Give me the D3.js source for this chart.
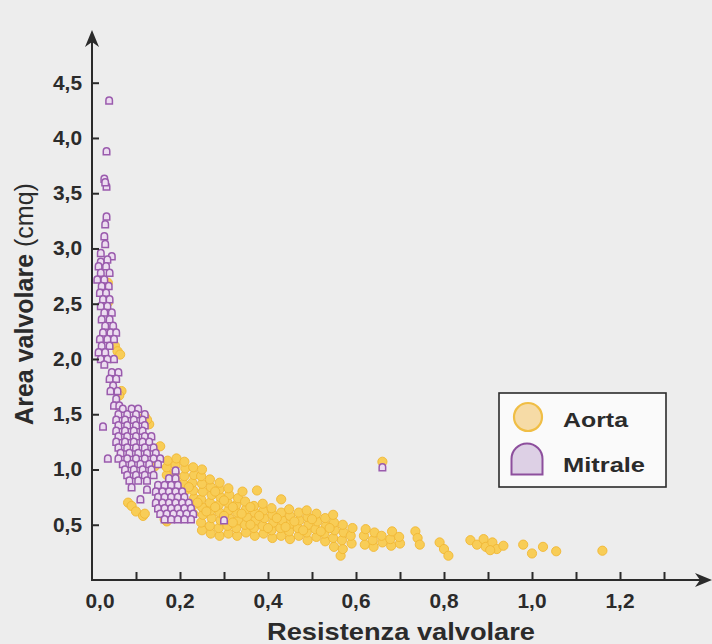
<!DOCTYPE html>
<html>
<head>
<meta charset="utf-8">
<script src="https://cdn.jsdelivr.net/npm/d3@7"></script>
<style>
    body { margin: 0; background: #ececec; }
    svg { display: block; font-family: "Liberation Sans", Arial, sans-serif; }
</style>
</head>
<body>
<div id="chart"></div>
<script>
// ticks
const xTicks = [0, 0.2, 0.4, 0.6, 0.8, 1.0, 1.2];
const xMinorTicks = [0.1, 0.2, 0.3, 0.4, 0.5, 0.6, 0.7, 0.8, 0.9, 1.0, 1.1, 1.2, 1.3];
const yTicks = [0.5, 1.0, 1.5, 2.0, 2.5, 3.0, 3.5, 4.0, 4.5];
const seriesNames = ["Aorta", "Mitrale"];

// Aorta [resistenza, area]
const aortaPoints = [
    [0.036, 2.69], [0.036, 2.51], [0.052, 2.12], [0.058, 2.07], [0.064, 2.04], [0.067, 1.71], [0.062, 1.67],
    [0.12, 1.48], [0.13, 1.41], [0.125, 1.45], [0.155, 1.21], [0.143, 1.03], [0.082, 0.70], [0.09, 0.67],
    [0.10, 0.62], [0.116, 0.58], [0.12, 0.60], [0.17, 0.53], [0.165, 0.55],
    [0.17, 0.95], [0.17, 1.02], [0.172, 1.08],
    [0.19, 0.90], [0.188, 0.97], [0.19, 1.04], [0.192, 1.10],
    [0.21, 0.80], [0.208, 0.87], [0.21, 0.94], [0.212, 1.01], [0.21, 1.07],
    [0.23, 0.60], [0.228, 0.67], [0.232, 0.74], [0.23, 0.81], [0.228, 0.88], [0.232, 0.95], [0.23, 1.02],
    [0.25, 0.45], [0.248, 0.52], [0.252, 0.59], [0.25, 0.66], [0.248, 0.73], [0.252, 0.80], [0.25, 0.87], [0.248, 0.94], [0.25, 1.00],
    [0.27, 0.42], [0.268, 0.49], [0.272, 0.56], [0.27, 0.63], [0.268, 0.70], [0.272, 0.77], [0.27, 0.84], [0.268, 0.91],
    [0.29, 0.40], [0.288, 0.47], [0.292, 0.54], [0.29, 0.61], [0.288, 0.68], [0.292, 0.75], [0.29, 0.82], [0.29, 0.88],
    [0.31, 0.42], [0.308, 0.49], [0.312, 0.56], [0.31, 0.63], [0.308, 0.70], [0.312, 0.77], [0.31, 0.83],
    [0.33, 0.40], [0.328, 0.47], [0.332, 0.54], [0.33, 0.61], [0.328, 0.68], [0.332, 0.74],
    [0.35, 0.43], [0.348, 0.50], [0.352, 0.57], [0.35, 0.64], [0.348, 0.71], [0.342, 0.80],
    [0.37, 0.40], [0.368, 0.47], [0.372, 0.54], [0.37, 0.61], [0.368, 0.67], [0.375, 0.81],
    [0.39, 0.42], [0.388, 0.49], [0.392, 0.56], [0.39, 0.63], [0.388, 0.69],
    [0.41, 0.38], [0.408, 0.45], [0.412, 0.52], [0.41, 0.59], [0.408, 0.65],
    [0.43, 0.40], [0.428, 0.47], [0.432, 0.54], [0.43, 0.61], [0.43, 0.73],
    [0.45, 0.37], [0.448, 0.44], [0.452, 0.51], [0.45, 0.58], [0.448, 0.64],
    [0.47, 0.40], [0.468, 0.47], [0.472, 0.54], [0.47, 0.61],
    [0.49, 0.36], [0.488, 0.43], [0.492, 0.50], [0.49, 0.57], [0.488, 0.63],
    [0.51, 0.39], [0.508, 0.46], [0.512, 0.53], [0.51, 0.60],
    [0.53, 0.35], [0.528, 0.42], [0.532, 0.49], [0.53, 0.56],
    [0.55, 0.30], [0.548, 0.38], [0.552, 0.45], [0.55, 0.52], [0.548, 0.59],
    [0.565, 0.22], [0.57, 0.28], [0.568, 0.36], [0.572, 0.43], [0.57, 0.50],
    [0.59, 0.33], [0.588, 0.40], [0.592, 0.47],
    [0.62, 0.32], [0.618, 0.40], [0.622, 0.46],
    [0.64, 0.30], [0.638, 0.36], [0.642, 0.43],
    [0.66, 0.34], [0.658, 0.40], [0.66, 1.07],
    [0.68, 0.31], [0.678, 0.37], [0.682, 0.44],
    [0.70, 0.33], [0.698, 0.39],
    [0.735, 0.44], [0.74, 0.38], [0.745, 0.32],
    [0.79, 0.34], [0.80, 0.28], [0.81, 0.22],
    [0.86, 0.36], [0.875, 0.32], [0.89, 0.37], [0.895, 0.30], [0.91, 0.34], [0.92, 0.28], [0.935, 0.31], [0.905, 0.27],
    [0.98, 0.32], [1.0, 0.24], [1.025, 0.30], [1.055, 0.26], [1.16, 0.265],
    // filling the band
    [0.26, 0.62], [0.28, 0.66], [0.30, 0.58], [0.32, 0.52], [0.34, 0.60], [0.36, 0.50], [0.38, 0.58],
    [0.40, 0.47], [0.42, 0.56], [0.44, 0.48], [0.46, 0.53], [0.48, 0.45], [0.50, 0.55], [0.52, 0.44],
    [0.54, 0.47], [0.24, 0.70], [0.22, 0.84], [0.28, 0.80], [0.30, 0.72], [0.32, 0.66], [0.36, 0.66]
];

// Mitrale [resistenza, area]
const mitralePoints = [
    [0.039, 4.34], [0.033, 3.88], [0.028, 3.63], [0.033, 3.56], [0.030, 3.60], [0.033, 3.29], [0.030, 3.22],
    [0.028, 3.11], [0.030, 3.04], [0.020, 2.96], [0.045, 2.93], [0.020, 2.88], [0.035, 2.90],
    [0.015, 2.84], [0.032, 2.84], [0.020, 2.78], [0.040, 2.78], [0.012, 2.72], [0.028, 2.72],
    [0.022, 2.66], [0.038, 2.66], [0.018, 2.60], [0.032, 2.60], [0.025, 2.54], [0.040, 2.54],
    [0.020, 2.48], [0.035, 2.48], [0.028, 2.42], [0.045, 2.42], [0.022, 2.36], [0.040, 2.36],
    [0.030, 2.30], [0.048, 2.30], [0.025, 2.24], [0.042, 2.24], [0.055, 2.24],
    [0.018, 2.18], [0.035, 2.18], [0.050, 2.18], [0.022, 2.12], [0.040, 2.12],
    [0.015, 2.06], [0.030, 2.06], [0.020, 2.00], [0.035, 2.00], [0.050, 2.00], [0.028, 1.95],
    [0.045, 1.88], [0.060, 1.88], [0.040, 1.82], [0.055, 1.82], [0.048, 1.76],
    [0.042, 1.71], [0.058, 1.71], [0.055, 1.64], [0.050, 1.58], [0.062, 1.58],
    [0.025, 1.39], [0.036, 1.10],
    [0.07, 1.55], [0.09, 1.55], [0.105, 1.55],
    [0.06, 1.50], [0.08, 1.50], [0.10, 1.50], [0.12, 1.50],
    [0.055, 1.45], [0.075, 1.45], [0.095, 1.45], [0.115, 1.45],
    [0.06, 1.40], [0.08, 1.40], [0.10, 1.40], [0.12, 1.40],
    [0.055, 1.35], [0.075, 1.35], [0.095, 1.35], [0.115, 1.35],
    [0.06, 1.30], [0.08, 1.30], [0.10, 1.30], [0.12, 1.30], [0.135, 1.30],
    [0.055, 1.25], [0.075, 1.25], [0.095, 1.25], [0.115, 1.25], [0.13, 1.25],
    [0.06, 1.20], [0.08, 1.20], [0.10, 1.20], [0.12, 1.20], [0.14, 1.20],
    [0.065, 1.15], [0.085, 1.15], [0.105, 1.15], [0.125, 1.15], [0.145, 1.15],
    [0.06, 1.10], [0.08, 1.10], [0.10, 1.10], [0.12, 1.10], [0.14, 1.10], [0.155, 1.10],
    [0.07, 1.05], [0.09, 1.05], [0.11, 1.05], [0.13, 1.05], [0.15, 1.05],
    [0.075, 1.00], [0.095, 1.00], [0.115, 1.00], [0.135, 1.00],
    [0.08, 0.95], [0.10, 0.95], [0.12, 0.95], [0.14, 0.95],
    [0.085, 0.90], [0.105, 0.90], [0.125, 0.90],
    [0.09, 0.84], [0.125, 0.82], [0.11, 0.73],
    [0.175, 0.92], [0.19, 0.92], [0.19, 0.99],
    [0.15, 0.86], [0.165, 0.86], [0.18, 0.86], [0.195, 0.86],
    [0.145, 0.80], [0.16, 0.80], [0.175, 0.80], [0.19, 0.80], [0.205, 0.80],
    [0.15, 0.75], [0.165, 0.75], [0.18, 0.75], [0.195, 0.75], [0.21, 0.75],
    [0.145, 0.70], [0.16, 0.70], [0.175, 0.70], [0.19, 0.70], [0.205, 0.70], [0.22, 0.70],
    [0.15, 0.65], [0.165, 0.65], [0.18, 0.65], [0.195, 0.65], [0.21, 0.65], [0.225, 0.65],
    [0.155, 0.60], [0.17, 0.60], [0.185, 0.60], [0.20, 0.60], [0.215, 0.60], [0.23, 0.60],
    [0.165, 0.55], [0.18, 0.55], [0.195, 0.55], [0.21, 0.55], [0.225, 0.55],
    [0.30, 0.54], [0.66, 1.02]
];

const width = 712
    , height = 644
    , ink = "#2b2b2b"
    , xScale = d3.scaleLinear().domain([0, 1.3]).range([92, 664])
    , yScale = d3.scaleLinear().domain([0, 4.5]).range([580, 82.7])
    , svg = d3.select("#chart")
        .append("svg")
        .attr("width", width)
        .attr("height", height);

// background
svg.append("rect")
    .attr("width", width)
    .attr("height", height)
    .attr("fill", "#ededed");

// dome marker for Mitrale
const dome = (w, h) => "M" + (-w / 2) + "," + (h / 2) + "V" + (-h / 2 + w / 2)
    + "A" + (w / 2) + "," + (w / 2) + " 0 0 1 " + (w / 2) + "," + (-h / 2 + w / 2)
    + "V" + (h / 2) + "Z";

// tick label like "0,5"
const fmt = d => d3.format(".1f")(d).replace(".", ",");

// points
svg.append("g")
    .selectAll("circle")
    .data(aortaPoints)
    .enter()
    .append("circle")
    .attr("cx", d => xScale(d[0]))
    .attr("cy", d => yScale(d[1]))
    .attr("r", 4.6)
    .attr("fill", "#f8cd57")
    .attr("stroke", "#f1b733")
    .attr("stroke-width", 0.9);

svg.append("g")
    .selectAll("path")
    .data(mitralePoints)
    .enter()
    .append("path")
    .attr("transform", d => "translate(" + xScale(d[0]) + "," + yScale(d[1]) + ")")
    .attr("d", dome(6.5, 7))
    .attr("fill", "#ecdcf0")
    .attr("stroke", "#9a5bad")
    .attr("stroke-width", 1.5);

// x axis
const xAxis = d3.axisTop(xScale)
    .tickValues(xMinorTicks)
    .tickSize(8)
    .tickFormat("");
const gx = svg.append("g")
    .attr("transform", "translate(0," + yScale(0) + ")")
    .call(xAxis);
gx.select(".domain").remove();
gx.selectAll("line").attr("stroke", ink).attr("stroke-width", 2);

svg.append("line")
    .attr("x1", xScale(0)).attr("x2", 704)
    .attr("y1", yScale(0)).attr("y2", yScale(0))
    .attr("stroke", ink).attr("stroke-width", 2);
svg.append("path")
    .attr("d", "M712," + yScale(0) + "L695," + (yScale(0) - 7) + "L700," + yScale(0) + "L695," + (yScale(0) + 7) + "Z")
    .attr("fill", ink);

svg.append("g")
    .selectAll("text")
    .data(xTicks)
    .enter()
    .append("text")
    .attr("x", d => xScale(d) + (d === 0 ? 8 : 0))
    .attr("y", 608)
    .attr("text-anchor", "middle")
    .attr("font-size", 20)
    .attr("font-weight", "bold")
    .attr("fill", ink)
    .attr("textLength", 29)
    .attr("lengthAdjust", "spacingAndGlyphs")
    .text(fmt);

// y axis
const yAxis = d3.axisRight(yScale)
    .tickValues(yTicks)
    .tickSize(7)
    .tickFormat("");
const gy = svg.append("g")
    .attr("transform", "translate(" + xScale(0) + ",0)")
    .call(yAxis);
gy.select(".domain").remove();
gy.selectAll("line").attr("stroke", ink).attr("stroke-width", 2);

svg.append("line")
    .attr("x1", xScale(0)).attr("x2", xScale(0))
    .attr("y1", yScale(0) + 1).attr("y2", 40)
    .attr("stroke", ink).attr("stroke-width", 2);
svg.append("path")
    .attr("d", "M" + xScale(0) + ",30L" + (xScale(0) - 7) + ",47L" + xScale(0) + ",42L" + (xScale(0) + 7) + ",47Z")
    .attr("fill", ink);

svg.append("g")
    .selectAll("text")
    .data(yTicks)
    .enter()
    .append("text")
    .attr("x", 82)
    .attr("y", d => yScale(d) + 7)
    .attr("text-anchor", "end")
    .attr("font-size", 20)
    .attr("font-weight", "bold")
    .attr("fill", ink)
    .attr("textLength", 29)
    .attr("lengthAdjust", "spacingAndGlyphs")
    .text(fmt);

// axis titles
svg.append("text")
    .attr("x", 401)
    .attr("y", 640)
    .attr("text-anchor", "middle")
    .attr("font-size", 24)
    .attr("font-weight", "bold")
    .attr("fill", ink)
    .attr("textLength", 268)
    .attr("lengthAdjust", "spacingAndGlyphs")
    .text("Resistenza valvolare");

const yTitle = svg.append("text")
    .attr("transform", "translate(33,304) rotate(-90)")
    .attr("text-anchor", "middle")
    .attr("font-size", 25)
    .attr("fill", ink);
yTitle.append("tspan").attr("font-weight", "bold").text("Area valvolare ");
yTitle.append("tspan").text("(cmq)");

// legend
const legend = svg.append("g");
legend.append("rect")
    .attr("x", 499).attr("y", 393)
    .attr("width", 167).attr("height", 94)
    .attr("fill", "#fafafa")
    .attr("stroke", ink)
    .attr("stroke-width", 1.6);
legend.append("circle")
    .attr("cx", 528).attr("cy", 417).attr("r", 14)
    .attr("fill", "#f6dba6")
    .attr("stroke", "#f0be45")
    .attr("stroke-width", 2.2);
legend.append("path")
    .attr("transform", "translate(527,459)")
    .attr("d", dome(31, 31))
    .attr("fill", "#ddd0e5")
    .attr("stroke", "#8d4f9d")
    .attr("stroke-width", 2);
legend.selectAll("text")
    .data(seriesNames)
    .enter()
    .append("text")
    .attr("x", 563)
    .attr("y", (d, i) => 427 + i * 45)
    .attr("font-size", 21)
    .attr("font-weight", "bold")
    .attr("fill", ink)
    .attr("textLength", (d, i) => i ? 82 : 65)
    .attr("lengthAdjust", "spacingAndGlyphs")
    .text(d => d);
</script>
</body>
</html>
